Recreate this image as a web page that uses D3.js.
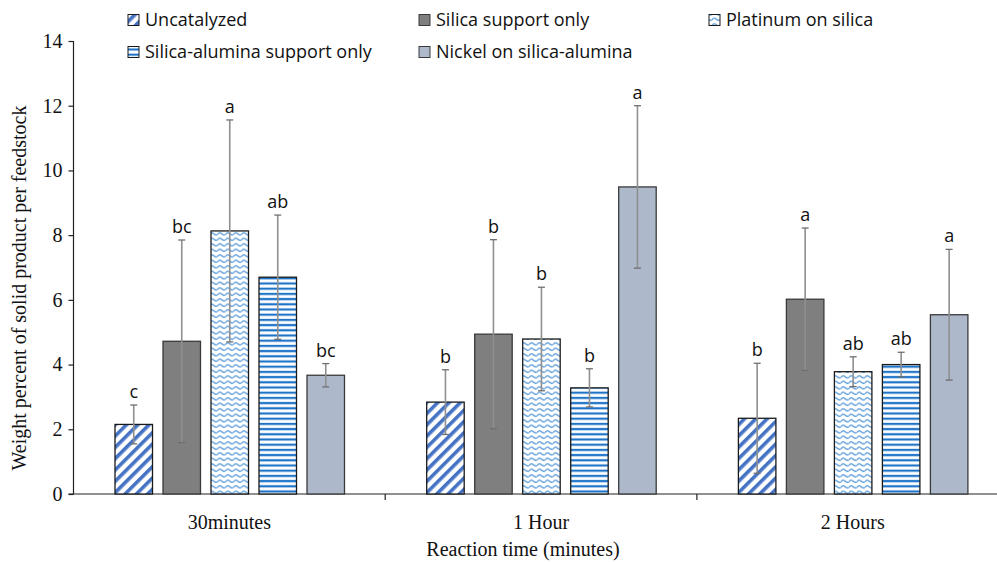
<!DOCTYPE html>
<html>
<head>
<meta charset="utf-8">
<script src="https://cdn.jsdelivr.net/npm/d3@7/dist/d3.min.js"></script>
<style>
  body { margin: 0; background: #fff; }
  svg { display: block; }
</style>
</head>
<body>
<svg id="chart" width="997" height="562"></svg>
<script>
// Reaction times (x categories) and catalyst series
const categories = ["30minutes", "1 Hour", "2 Hours"];
const seriesNames = [
  "Uncatalyzed",
  "Silica support only",
  "Platinum on silica",
  "Silica-alumina support only",
  "Nickel on silica-alumina"
];
// Mean weight percent per series, one entry per category
const uncatalyzed = [2.15, 2.84, 2.34];
const silicaOnly = [4.72, 4.94, 6.02];
const platinumSilica = [8.13, 4.79, 3.78];
const silicaAluminaOnly = [6.70, 3.28, 4.00];
const nickelSilicaAlumina = [3.67, 9.49, 5.54];
// Error (± standard deviation)
const errUncatalyzed = [0.60, 1.00, 1.70];
const errSilicaOnly = [3.13, 2.92, 2.20];
const errPlatinumSilica = [3.43, 1.60, 0.46];
const errSilicaAluminaOnly = [1.92, 0.59, 0.38];
const errNickelSilicaAlumina = [0.36, 2.51, 2.02];
// Significance letters
const lettersUncatalyzed = ["c", "b", "b"];
const lettersSilicaOnly = ["bc", "b", "a"];
const lettersPlatinumSilica = ["a", "b", "ab"];
const lettersSilicaAluminaOnly = ["ab", "b", "ab"];
const lettersNickelSilicaAlumina = ["bc", "a", "a"];
const yTicks = [0, 2, 4, 6, 8, 10, 12, 14];

const values = [uncatalyzed, silicaOnly, platinumSilica, silicaAluminaOnly, nickelSilicaAlumina];
const errors = [errUncatalyzed, errSilicaOnly, errPlatinumSilica, errSilicaAluminaOnly, errNickelSilicaAlumina];
const letters = [lettersUncatalyzed, lettersSilicaOnly, lettersPlatinumSilica, lettersSilicaAluminaOnly, lettersNickelSilicaAlumina];

const svg = d3.select("#chart");
const defs = svg.append("defs");

// Fill patterns
const pDiag = defs.append("pattern").attr("id", "p-diag")
  .attr("patternUnits", "userSpaceOnUse").attr("width", 8).attr("height", 8)
  .attr("patternTransform", "rotate(45)");
pDiag.append("rect").attr("width", 8).attr("height", 8).attr("fill", "#fff");
pDiag.append("rect").attr("x", 0).attr("width", 3.6).attr("height", 8).attr("fill", "#4472C4");

const pWave = defs.append("pattern").attr("id", "p-wave")
  .attr("patternUnits", "userSpaceOnUse").attr("width", 8).attr("height", 5.5);
pWave.append("rect").attr("width", 8).attr("height", 5.5).attr("fill", "#fff");
pWave.append("path").attr("d", "M0,3.5 Q2,0.5 4,2.5 T8,3.5")
  .attr("fill", "none").attr("stroke", "#4F95D6").attr("stroke-width", 1.3);

const pHoriz = defs.append("pattern").attr("id", "p-horiz")
  .attr("patternUnits", "userSpaceOnUse").attr("width", 8).attr("height", 5.2);
pHoriz.append("rect").attr("width", 8).attr("height", 5.2).attr("fill", "#fff");
pHoriz.append("rect").attr("y", 1.6).attr("width", 8).attr("height", 2.2).attr("fill", "#1F74C8");

const fills = ["url(#p-diag)", "#7F7F7F", "url(#p-wave)", "url(#p-horiz)", "#ADB9CA"];
const strokes = ["#1a1a1a", "#3a3a3a", "#1a1a1a", "#1a1a1a", "#3a3a3a"];

const left = 73.5, baseY = 494, topY = 41;
const bandW = 311.7;
const x0 = d3.scaleBand().domain(categories)
  .range([left, left + bandW * categories.length]).paddingInner(0).paddingOuter(0);
const x1 = d3.scaleBand().domain(seriesNames)
  .range([41.5, 41.5 + 5 * 37.5 + 4 * 10.5]).paddingInner(10.5 / 48).paddingOuter(0);
const y = d3.scaleLinear().domain([0, 14]).range([baseY, topY]);

const serif = "'Liberation Serif', 'Times New Roman', serif";
const sans = "'Open Sans', Lato, sans-serif";

// Y axis
const yAxis = svg.append("g").attr("transform", `translate(${left},0)`)
  .call(d3.axisLeft(y).tickValues(yTicks).tickSize(5).tickPadding(6).tickFormat(d3.format("d")));
yAxis.select(".domain").attr("stroke", "#222").attr("stroke-width", 1.2).attr("d", `M-5,${baseY}H0V${topY}`);
yAxis.selectAll(".tick line").attr("stroke", "#222").attr("stroke-width", 1.2);
yAxis.selectAll(".tick text").attr("font-family", serif).attr("font-size", 20).attr("fill", "#111");

// X axis
const xAxis = svg.append("g").attr("transform", `translate(0,${baseY})`)
  .call(d3.axisBottom(x0).tickSize(0).tickPadding(21));
xAxis.select(".domain").attr("stroke", "#222").attr("stroke-width", 1.2)
  .attr("d", `M${left},0H${left + bandW * 3}`);
xAxis.selectAll(".tick text").attr("font-family", serif).attr("font-size", 20).attr("fill", "#111");
// boundary ticks between categories
svg.append("g").selectAll("line").data(d3.range(1, categories.length + 1))
  .join("line")
  .attr("x1", i => left + i * bandW).attr("x2", i => left + i * bandW)
  .attr("y1", baseY).attr("y2", baseY + 6)
  .attr("stroke", "#222").attr("stroke-width", 1.2);

// Bars
const groups = svg.append("g").selectAll("g").data(categories).join("g")
  .attr("transform", c => `translate(${x0(c)},0)`);

groups.each(function (c, ci) {
  const g = d3.select(this);
  seriesNames.forEach((s, si) => {
    const v = values[si][ci], e = errors[si][ci];
    const bx = x1(s), bw = x1.bandwidth();
    g.append("rect")
      .attr("x", bx).attr("y", y(v)).attr("width", bw).attr("height", y(0) - y(v))
      .attr("fill", fills[si]).attr("stroke", strokes[si]).attr("stroke-width", 1.3);
    const cx = bx + bw / 2;
    g.append("line").attr("x1", cx).attr("x2", cx)
      .attr("y1", y(v + e)).attr("y2", y(v - e))
      .attr("stroke", "#8F8F8F").attr("stroke-width", 1.6);
    [v + e, v - e].forEach(t => {
      g.append("line").attr("x1", cx - 3.5).attr("x2", cx + 3.5)
        .attr("y1", y(t)).attr("y2", y(t))
        .attr("stroke", "#6F6F6F").attr("stroke-width", 1.3);
    });
    g.append("text").attr("x", cx).attr("y", y(v + e) - 7)
      .attr("text-anchor", "middle").attr("font-family", sans).attr("font-size", 18)
      .attr("fill", "#111").text(letters[si][ci]);
  });
});

// Legend
const legendPos = [
  { x: 128, y: 20 }, { x: 419, y: 20 }, { x: 709, y: 20 },
  { x: 128, y: 52 }, { x: 419, y: 52 }
];
const legend = svg.append("g");
seriesNames.forEach((s, i) => {
  const p = legendPos[i];
  legend.append("rect").attr("x", p.x).attr("y", p.y - 5.5).attr("width", 11).attr("height", 11)
    .attr("fill", fills[i]).attr("stroke", strokes[i]).attr("stroke-width", 1);
  legend.append("text").attr("x", p.x + 17).attr("y", p.y).attr("dy", "0.35em")
    .attr("font-family", sans).attr("font-size", 18).attr("fill", "#111").text(s);
});

// Axis titles
svg.append("text").attr("x", 523).attr("y", 556).attr("text-anchor", "middle")
  .attr("font-family", serif).attr("font-size", 20).attr("fill", "#111")
  .text("Reaction time (minutes)");
svg.append("text").attr("transform", "translate(26,288) rotate(-90)").attr("text-anchor", "middle")
  .attr("font-family", serif).attr("font-size", 20).attr("fill", "#111")
  .text("Weight percent of solid product per feedstock");
</script>
</body>
</html>
